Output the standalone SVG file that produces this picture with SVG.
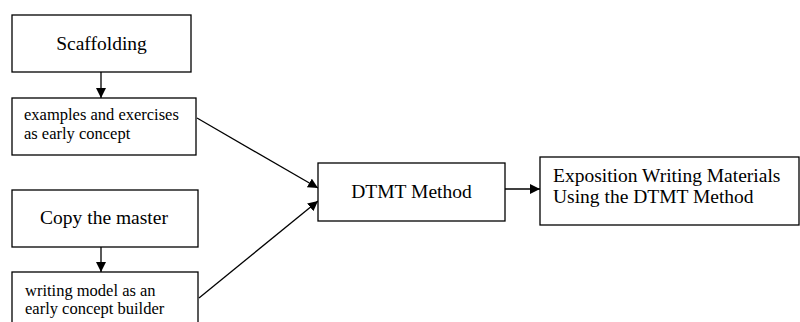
<svg xmlns="http://www.w3.org/2000/svg" width="800" height="322" viewBox="0 0 800 322">
<style>
.box{fill:#fff;stroke:#000;stroke-width:1.3}
.t{font-family:"Liberation Serif","Times New Roman",serif;fill:#000}
.big{font-size:19.5px}
.sm{font-size:16.5px}
.c{stroke:#000;stroke-width:1.3;fill:none;marker-end:url(#ah)}
</style>
<defs>
<marker id="ah" viewBox="0 0 10 10" refX="10" refY="5" markerWidth="10" markerHeight="10" markerUnits="userSpaceOnUse" orient="auto">
<path d="M0,0 L10,5 L0,10 z" fill="#000"/>
</marker>
</defs>
<rect width="800" height="322" fill="#fff"/>
<g id="connectors">
<line class="c" x1="101" y1="72" x2="101" y2="98"/>
<line class="c" x1="101" y1="247" x2="101" y2="272"/>
<line class="c" x1="197" y1="118" x2="318" y2="188"/>
<line class="c" x1="199" y1="298" x2="318" y2="201"/>
<line class="c" x1="505" y1="189" x2="540" y2="189"/>
</g>
<g id="scaffolding">
<rect class="box" x="12" y="15" width="179" height="57"/>
<text class="t big" x="101.5" y="50" text-anchor="middle">Scaffolding</text>
</g>
<g id="examples">
<rect class="box" x="12" y="98" width="184" height="57"/>
<text class="t sm" x="24" y="120">examples and exercises</text>
<text class="t sm" x="24" y="139">as early concept</text>
</g>
<g id="copy">
<rect class="box" x="12" y="190" width="186" height="57"/>
<text class="t big" x="104" y="224" text-anchor="middle">Copy the master</text>
</g>
<g id="writing">
<rect class="box" x="12" y="272" width="186" height="60"/>
<text class="t sm" x="25" y="296">writing model as an</text>
<text class="t sm" x="25" y="314">early concept builder</text>
</g>
<g id="dtmt">
<rect class="box" x="318" y="163" width="187" height="58"/>
<text class="t big" x="411.5" y="198" text-anchor="middle">DTMT Method</text>
</g>
<g id="exposition">
<rect class="box" x="540" y="157" width="259" height="68"/>
<text class="t big" x="553" y="182">Exposition Writing Materials</text>
<text class="t big" x="553" y="203">Using the DTMT Method</text>
</g>
</svg>
